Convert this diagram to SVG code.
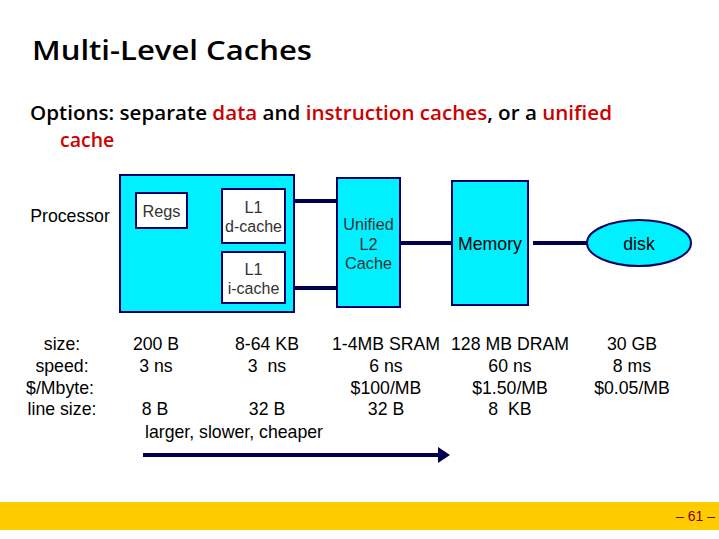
<svg xmlns="http://www.w3.org/2000/svg" width="719" height="539" viewBox="0 0 719 539">
<style>
.box{fill:#00F0FF;stroke:#000066;stroke-width:2}
.wbox{fill:#ffffff;stroke:#000066;stroke-width:2}
.t{font-family:"Liberation Sans",Arial,sans-serif;font-size:17.7px;fill:#000;text-anchor:middle}
.s{font-family:"Liberation Sans",Arial,sans-serif;font-size:16px;fill:#333;text-anchor:middle}
.g{font-family:"Liberation Sans",Arial,sans-serif;font-size:16.3px;fill:#333;text-anchor:middle}
.h{font-family:"Open Sans","Liberation Sans",sans-serif}
.red{fill:#CC0000}
.ln{stroke:#000050;stroke-width:4;fill:none}
</style>
<defs>
<marker id="ah" markerWidth="4" markerHeight="4" refX="1" refY="2" orient="auto" markerUnits="strokeWidth">
<path d="M0,0 L3,2 L0,4 Z" fill="#000050"/>
</marker>
</defs>
<rect width="719" height="539" fill="#fff"/>
<text class="h" x="32" y="60" font-size="27" font-weight="600" textLength="280" lengthAdjust="spacingAndGlyphs">Multi-Level Caches</text>
<text class="h" x="30" y="120" font-size="19.5" font-weight="600" textLength="582" lengthAdjust="spacingAndGlyphs">Options: separate <tspan class="red">data</tspan> and <tspan class="red">instruction caches</tspan>, or a <tspan class="red">unified</tspan></text>
<text class="h red" x="60" y="147" font-size="19.5" font-weight="600">cache</text>

<g id="connectors">
<line x1="187" y1="212" x2="222" y2="212" stroke="#004000" stroke-width="3"/>
<line class="ln" x1="285" y1="201" x2="337" y2="201"/>
<line class="ln" x1="285" y1="288" x2="337" y2="288"/>
<line class="ln" x1="400" y1="243" x2="452" y2="243"/>
<line class="ln" x1="533" y1="243" x2="588" y2="243"/>
<line class="ln" x1="143" y1="455" x2="442" y2="455" marker-end="url(#ah)"/>
</g>

<g id="processor-label"><text class="t" x="70" y="222">Processor</text></g>
<g id="processor"><rect class="box" x="120" y="175" width="174" height="137"/></g>
<g id="regs"><rect class="wbox" x="136" y="193" width="51" height="35"/><text class="g" x="161.5" y="217" font-size="17">Regs</text></g>
<g id="l1d"><rect class="wbox" x="222" y="189" width="63" height="54"/><text class="g" x="253.5" y="213">L1</text><text class="s" x="253.5" y="232">d-cache</text></g>
<g id="l1i"><rect class="wbox" x="222" y="252" width="63" height="51"/><text class="g" x="253.5" y="275">L1</text><text class="s" x="253.5" y="294">i-cache</text></g>
<g id="l2"><rect class="box" x="337" y="178" width="63" height="129"/><text class="g" x="368.5" y="230">Unified</text><text class="g" x="368.5" y="250">L2</text><text class="g" x="368.5" y="269">Cache</text></g>
<g id="memory"><rect class="box" x="452" y="181" width="76" height="124"/><text class="t" x="490" y="250" font-size="18">Memory</text></g>
<g id="disk"><ellipse cx="639" cy="243" rx="52" ry="23" class="box"/><text class="t" x="639" y="250" font-size="18.5">disk</text></g>

<g id="table">
<text class="t" x="62" y="350">size:</text>
<text class="t" x="62" y="372">speed:</text>
<text class="t" x="60" y="394">$/Mbyte:</text>
<text class="t" x="62" y="415">line size:</text>
<text class="t" x="156" y="350">200 B</text>
<text class="t" x="156" y="372">3 ns</text>
<text class="t" x="155" y="415">8 B</text>
<text class="t" x="267" y="350">8-64 KB</text>
<text class="t" x="267" y="372" xml:space="preserve">3  ns</text>
<text class="t" x="267" y="415">32 B</text>
<text class="t" x="386" y="350">1-4MB SRAM</text>
<text class="t" x="386" y="372">6 ns</text>
<text class="t" x="386" y="394">$100/MB</text>
<text class="t" x="386" y="415">32 B</text>
<text class="t" x="510" y="350">128 MB DRAM</text>
<text class="t" x="510" y="372">60 ns</text>
<text class="t" x="510" y="394">$1.50/MB</text>
<text class="t" x="510" y="415" xml:space="preserve">8  KB</text>
<text class="t" x="632" y="350">30 GB</text>
<text class="t" x="632" y="372">8 ms</text>
<text class="t" x="632" y="394">$0.05/MB</text>
<text class="t" x="234" y="438" font-size="18.2">larger, slower, cheaper</text>
</g>

<g id="footer">
<rect x="0" y="502" width="719" height="28" fill="#FFCC00"/>
<text x="715" y="521" font-family="'Liberation Sans',Arial,sans-serif" font-size="14" fill="#800000" text-anchor="end">– 61 –</text>
</g>
</svg>
